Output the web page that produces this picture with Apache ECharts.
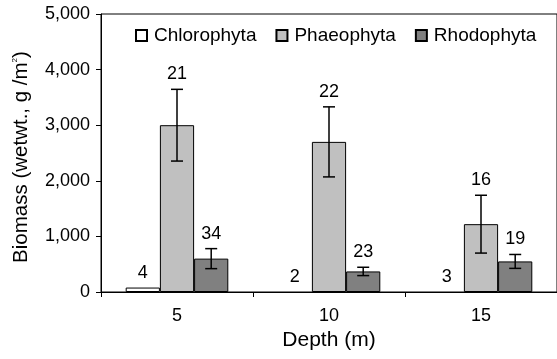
<!DOCTYPE html>
<html>
<head>
<meta charset="utf-8">
<script src="https://cdn.jsdelivr.net/npm/echarts@6/dist/echarts.min.js"></script>
<style>
  html, body { margin: 0; padding: 0; background: #fff; }
  #chart { width: 557px; height: 359px; }
</style>
</head>
<body>
<div id="chart"></div>
<script>
// depth categories and taxa
const depths = ["5", "10", "15"];
const taxa = ["Chlorophyta", "Phaeophyta", "Rhodophyta"];

// mean biomass (wet wt., g/m2)
const chlorophyta = [80, 0, 0];
const phaeophyta = [3000, 2700, 1220];
const rhodophyta = [600, 370, 550];

// error bar half-widths
const chlorophytaErr = [0, 0, 0];
const phaeophytaErr = [645, 630, 520];
const rhodophytaErr = [180, 75, 125];

// sample counts shown above bars
const chlorophytaN = [4, 2, 3];
const phaeophytaN = [21, 22, 16];
const rhodophytaN = [34, 23, 19];

const yTicks = [0, 1000, 2000, 3000, 4000, 5000];

const colors = ["#ffffff", "#c0c0c0", "#808080"];
const means = [chlorophyta, phaeophyta, rhodophyta];
const errs = [chlorophytaErr, phaeophytaErr, rhodophytaErr];
const counts = [chlorophytaN, phaeophytaN, rhodophytaN];

const FONT = "Liberation Sans, Arial, sans-serif";
const BAR_RATIO = 0.225;

var myChart = echarts.init(document.getElementById("chart"));

// one error-bar series per taxon, offset to sit on its bar
function errorSeries(k) {
  const data = depths.map((d, i) => [i, means[k][i], errs[k][i], counts[k][i]]);
  return {
    type: "custom",
    name: taxa[k] + " err",
    z: 5,
    data: data,
    encode: { x: 0, y: 1 },
    renderItem: function (params, api) {
      const idx = api.value(0);
      const mean = api.value(1);
      const err = api.value(2);
      const n = api.value(3);
      const bandW = api.size([1, 0])[0];
      const off = (k - 1) * bandW * BAR_RATIO;
      const top = api.coord([idx, mean + err]);
      const bot = api.coord([idx, mean - err]);
      const x = top[0] + off;
      const children = [];
      if (err > 0) {
        const style = { stroke: "#000", lineWidth: 1.5 };
        children.push(
          { type: "line", shape: { x1: x, y1: top[1], x2: x, y2: bot[1] }, style: style },
          { type: "line", shape: { x1: x - 6, y1: top[1], x2: x + 6, y2: top[1] }, style: style },
          { type: "line", shape: { x1: x - 6, y1: bot[1], x2: x + 6, y2: bot[1] }, style: style }
        );
      }
      children.push({
        type: "text",
        style: {
          text: String(n),
          x: x,
          y: top[1] - 15,
          align: "center",
          verticalAlign: "middle",
          fill: "#000",
          font: "18px " + FONT
        }
      });
      return { type: "group", children: children };
    }
  };
}

const barSeries = taxa.map((name, k) => ({
  name: name,
  type: "bar",
  data: means[k].map((v) => (v > 0 ? v : null)),
  barWidth: (BAR_RATIO * 100) + "%",
  barGap: "0%",
  itemStyle: { color: colors[k], borderColor: "#000", borderWidth: 1 }
}));

myChart.setOption({
  animation: false,
  textStyle: { fontFamily: FONT },
  grid: {
    left: 101,
    top: 14,
    bottom: 67,
    right: -4,
    show: true,
    borderColor: "#000",
    borderWidth: 1
  },
  legend: {
    data: taxa,
    top: 21,
    left: 130,
    icon: "rect",
    itemWidth: 11,
    itemHeight: 11,
    itemGap: 19,
    textStyle: { fontSize: 19, color: "#000", fontFamily: FONT, padding: [0, 0, 0, 2] }
  },
  xAxis: {
    type: "category",
    data: depths,
    name: "Depth (m)",
    nameLocation: "middle",
    nameGap: 37,
    nameTextStyle: { fontSize: 21, color: "#000" },
    axisLine: { lineStyle: { color: "#000", width: 1 } },
    axisTick: { show: true, length: 5, alignWithLabel: false, lineStyle: { color: "#000" } },
    axisLabel: { fontSize: 18, color: "#000", margin: 15 },
    splitLine: { show: false }
  },
  yAxis: {
    type: "value",
    min: yTicks[0],
    max: yTicks[yTicks.length - 1],
    interval: 1000,
    name: "{a|Biomass (wetwt., g /m}{s|2}{a|)}",
    nameLocation: "middle",
    nameGap: 69,
    nameTextStyle: {
      padding: [0, 8, 0, 0],
      rich: {
        a: { fontSize: 20.5, color: "#000", fontFamily: FONT },
        s: { fontSize: 8, color: "#000", fontFamily: FONT, verticalAlign: "top", padding: [0, 0, 10, 0] }
      }
    },
    axisLine: { show: true, lineStyle: { color: "#000", width: 1 } },
    axisTick: { show: true, length: 5, lineStyle: { color: "#000" } },
    axisLabel: {
      fontSize: 18,
      color: "#000",
      margin: 11,
      formatter: (v) => v.toLocaleString("en-US")
    },
    splitLine: { show: false }
  },
  series: barSeries.concat(taxa.map((_, k) => errorSeries(k)))
});
</script>
</body>
</html>
